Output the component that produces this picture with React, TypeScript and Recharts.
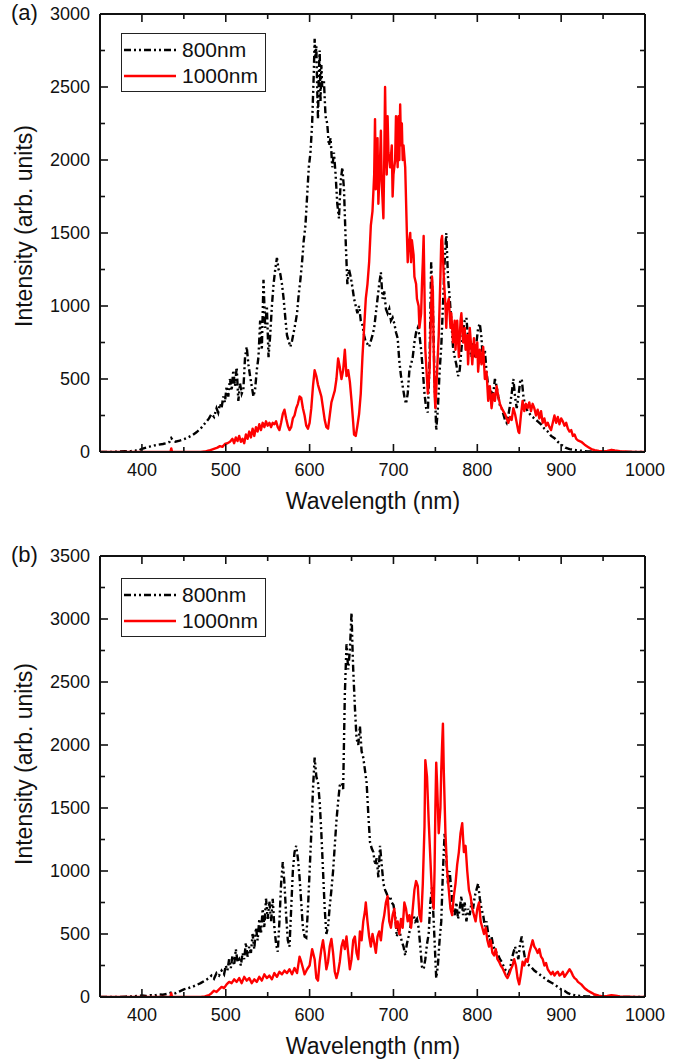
import React from 'react';
import { LineChart, Line, XAxis, YAxis, Legend, CartesianGrid } from 'recharts';

const FONT = '"Liberation Sans", Arial, sans-serif';

// tick values
const X_TICKS = [350, 400, 450, 500, 550, 600, 650, 700, 750, 800, 850, 900, 950, 1000];
const A_Y_TICKS = [0, 250, 500, 750, 1000, 1250, 1500, 1750, 2000, 2250, 2500, 2750, 3000];
const B_Y_TICKS = [0, 250, 500, 750, 1000, 1250, 1500, 1750, 2000, 2250, 2500, 2750, 3000, 3250, 3500];

// (a) 800nm pump, [wavelength nm, intensity]
const A_800: [number, number][] = [
  [350,0],[360,0],[370,2],[380,5],[385,3],[390,12],[395,8],[400,22],[405,30],[410,38],[415,45],[420,50],[425,55],[430,62],[433,70],[435,95],[437,80],[440,70],[445,78],[450,88],[455,100],[460,115],[465,135],[470,160],[475,195],[480,230],[483,260],[486,240],[489,300],[491,270],[493,330],[495,300],[497,380],[499,340],[501,450],[503,380],[505,500],[507,420],[509,560],[511,450],[513,580],[515,350],[517,470],[519,400],[521,430],[523,650],[525,720],[527,600],[529,520],[531,450],[533,380],[535,430],[537,560],[539,650],[541,900],[543,700],[545,1180],[547,850],[549,1000],[551,650],[553,800],[555,1000],[557,1150],[559,1250],[561,1330],[563,1250],[565,1220],[567,1150],[569,1050],[571,920],[573,800],[575,760],[577,720],[579,760],[581,820],[583,880],[585,950],[587,1080],[589,1180],[591,1300],[593,1450],[595,1550],[597,1750],[599,1950],[601,2050],[603,2250],[605,2600],[606,2830],[607,2700],[608,2780],[609,2500],[610,2280],[611,2600],[612,2750],[613,2400],[614,2650],[615,2500],[617,2550],[619,2300],[621,2250],[623,2100],[625,2150],[627,1950],[629,2050],[631,1900],[633,1700],[635,1600],[637,1850],[639,1950],[641,1800],[643,1450],[645,1150],[647,1250],[649,1200],[651,1130],[653,1050],[655,1000],[657,950],[659,1000],[661,900],[663,870],[665,800],[667,750],[669,740],[671,720],[673,760],[675,800],[677,850],[679,950],[681,1050],[683,1150],[685,1230],[687,1050],[689,1100],[691,980],[693,950],[695,980],[697,900],[699,920],[701,880],[703,820],[705,780],[707,620],[709,520],[711,450],[713,380],[715,330],[717,400],[719,560],[721,600],[723,650],[725,750],[727,820],[729,850],[731,800],[733,700],[735,560],[737,400],[739,300],[741,270],[743,600],[745,1300],[747,1000],[749,500],[751,150],[753,300],[755,550],[757,720],[759,1000],[761,1300],[763,1500],[765,1200],[767,1060],[769,900],[771,720],[773,650],[775,600],[777,520],[779,560],[781,700],[783,820],[785,900],[787,920],[789,780],[791,700],[793,650],[795,750],[797,650],[799,750],[801,850],[803,880],[805,780],[807,600],[809,700],[811,550],[813,450],[815,380],[817,420],[819,400],[821,500],[823,450],[825,380],[827,320],[829,300],[831,260],[833,220],[835,200],[837,250],[839,320],[841,400],[843,500],[845,380],[847,300],[849,380],[851,480],[853,500],[855,380],[857,320],[860,280],[864,250],[868,230],[872,210],[876,190],[880,160],[884,140],[888,110],[892,95],[896,70],[900,50],[905,30],[910,20],[915,15],[920,10],[925,8],[930,5],[940,3],[950,1],[960,0],[980,0],[1000,0],
];

// (a) 1000nm pump
const A_1000: [number, number][] = [
  [350,0],[400,0],[430,0],[434,0],[435,25],[436,0],[470,0],[475,3],[480,10],[485,20],[490,30],[493,40],[496,35],[499,55],[502,60],[505,70],[508,90],[510,60],[512,100],[514,75],[516,110],[518,70],[520,90],[522,60],[524,120],[526,90],[528,140],[530,100],[532,160],[534,110],[536,170],[538,140],[540,190],[542,150],[544,200],[546,170],[548,210],[550,180],[552,200],[554,170],[556,200],[558,190],[560,210],[562,170],[564,150],[566,200],[568,260],[570,290],[572,230],[574,180],[576,150],[578,170],[580,230],[582,250],[584,300],[586,330],[588,380],[590,370],[592,300],[594,250],[596,180],[598,160],[600,200],[602,300],[604,450],[606,560],[608,520],[610,460],[612,420],[614,380],[616,300],[618,220],[620,170],[622,160],[624,250],[626,340],[628,380],[630,420],[632,500],[634,640],[636,580],[638,500],[640,560],[642,700],[644,520],[646,560],[648,480],[650,350],[652,200],[653,120],[655,110],[657,180],[659,260],[661,400],[663,650],[665,850],[667,1050],[669,1150],[671,1300],[673,1550],[675,1650],[677,1900],[678,2280],[679,1800],[681,2150],[682,1700],[684,2000],[685,2200],[686,1850],[688,1600],[689,2000],[690,2500],[691,2100],[692,1900],[693,2300],[694,2050],[696,1950],[698,2100],[699,1750],[700,1900],[702,2000],[703,2300],[704,2100],[705,1950],[706,2300],[707,2000],[708,2380],[709,2100],[710,2250],[711,2000],[712,2100],[714,1950],[716,1500],[717,1300],[718,1400],[720,1500],[721,1300],[722,1450],[724,1350],[725,1200],[727,1150],[728,1050],[730,1000],[731,850],[733,950],[734,1150],[735,1300],[736,1480],[737,1100],[738,700],[740,500],[741,400],[743,550],[745,1000],[746,1200],[747,1100],[748,700],[749,400],[750,300],[752,550],[754,800],[756,1200],[757,1450],[758,1480],[759,1350],[760,1200],[762,1000],[763,850],[764,1000],[766,1050],[768,850],[769,950],[771,750],[773,900],[774,700],[776,900],[778,650],[780,900],[781,950],[783,750],[785,850],[786,700],[788,800],[789,600],[791,850],[793,700],[794,600],[796,780],[798,650],[800,750],[801,550],[803,700],[805,600],[807,720],[809,500],[811,550],[813,350],[815,450],[817,300],[819,400],[821,350],[823,450],[825,380],[827,330],[829,300],[831,280],[833,260],[835,230],[837,200],[839,240],[841,220],[843,300],[845,260],[847,200],[849,140],[850,130],[852,250],[854,350],[856,280],[858,330],[860,300],[862,340],[864,280],[866,330],[868,300],[870,250],[872,290],[874,230],[876,280],[878,200],[880,230],[882,180],[884,200],[886,170],[888,150],[890,200],[892,250],[894,200],[896,240],[898,190],[900,230],[902,210],[904,180],[906,200],[908,160],[910,140],[912,150],[914,110],[916,120],[918,90],[920,80],[924,70],[928,50],[932,35],[936,20],[940,12],[945,8],[950,5],[955,8],[960,15],[964,10],[970,5],[980,2],[990,0],[1000,0],
];

// (b) 800nm pump
const B_800: [number, number][] = [
  [350,0],[370,0],[380,3],[390,5],[395,10],[400,12],[405,8],[410,15],[415,12],[420,20],[425,18],[430,25],[435,35],[440,30],[445,45],[450,60],[455,70],[460,80],[465,95],[470,110],[475,130],[480,150],[483,170],[486,145],[489,190],[492,170],[495,210],[498,180],[500,250],[502,210],[504,300],[506,230],[508,330],[510,250],[512,380],[514,280],[516,300],[518,250],[520,350],[522,300],[524,430],[526,320],[528,400],[530,350],[532,500],[534,380],[536,550],[538,450],[540,620],[542,500],[544,700],[546,550],[548,780],[550,620],[552,760],[554,600],[556,780],[558,550],[560,420],[562,360],[564,600],[566,900],[568,1070],[570,900],[572,650],[574,450],[576,400],[578,700],[580,1000],[582,1150],[584,1200],[586,1100],[588,950],[590,750],[592,550],[594,480],[596,470],[598,700],[600,1000],[602,1300],[604,1650],[606,1900],[608,1750],[610,1700],[612,1550],[614,1300],[616,1000],[618,700],[620,500],[622,560],[624,720],[626,850],[628,1000],[630,1200],[632,1400],[634,1550],[636,1680],[638,1700],[640,1650],[642,2400],[644,2800],[646,2600],[648,2750],[650,3050],[651,2800],[652,2600],[654,2300],[656,2050],[658,2000],[660,2150],[662,1950],[664,1900],[666,1800],[668,1700],[670,1450],[672,1230],[674,1180],[676,1150],[678,1050],[680,1100],[682,950],[684,1200],[686,1050],[688,900],[690,850],[692,820],[694,780],[696,800],[698,750],[700,730],[702,650],[704,480],[706,550],[708,500],[710,440],[712,400],[714,330],[716,420],[718,480],[720,550],[722,620],[724,650],[726,600],[728,620],[730,550],[732,400],[734,240],[736,220],[738,300],[740,420],[742,500],[744,750],[746,870],[748,600],[750,300],[751,150],[753,250],[755,450],[757,600],[759,1000],[761,1300],[763,1100],[765,900],[767,1000],[769,850],[771,700],[773,650],[775,750],[777,620],[779,700],[781,800],[783,650],[785,750],[787,600],[789,700],[791,650],[793,750],[795,700],[797,800],[799,850],[801,900],[803,780],[805,700],[807,650],[809,560],[811,600],[813,500],[815,450],[817,480],[819,400],[821,380],[823,350],[825,330],[827,300],[829,280],[831,250],[833,220],[835,200],[837,180],[839,220],[841,300],[843,350],[845,400],[847,350],[849,300],[851,420],[853,480],[855,380],[857,300],[860,260],[864,240],[868,210],[872,190],[876,170],[880,150],[884,130],[888,115],[892,100],[896,80],[900,60],[904,50],[908,30],[912,20],[916,15],[920,10],[930,5],[940,2],[950,0],[1000,0],
];

// (b) 1000nm pump
const B_1000: [number, number][] = [
  [350,0],[400,0],[434,0],[435,30],[436,0],[470,0],[475,5],[480,15],[483,30],[486,50],[489,40],[492,60],[495,80],[498,70],[501,100],[504,120],[507,110],[510,140],[513,120],[516,150],[519,110],[522,160],[525,130],[528,150],[531,110],[534,140],[537,120],[540,160],[543,130],[546,180],[549,150],[552,170],[555,140],[558,190],[561,160],[564,200],[567,180],[570,210],[573,190],[576,220],[579,180],[582,230],[585,190],[588,320],[590,280],[592,230],[594,180],[597,220],[600,250],[603,380],[606,300],[608,150],[610,130],[612,280],[614,380],[616,450],[618,350],[620,220],[622,280],[624,400],[626,460],[628,350],[630,200],[632,150],[634,200],[636,280],[638,400],[640,450],[642,380],[644,480],[646,350],[648,220],[650,300],[652,450],[654,480],[656,350],[658,300],[660,520],[662,450],[664,600],[666,680],[667,750],[669,600],[671,480],[673,400],[675,500],[677,430],[679,350],[681,480],[683,520],[685,450],[687,580],[689,650],[691,750],[693,800],[695,600],[697,550],[699,650],[701,700],[703,550],[705,600],[707,500],[709,620],[711,550],[713,750],[715,700],[717,600],[719,650],[721,550],[723,700],[725,850],[727,920],[729,880],[731,650],[733,600],[735,900],[737,1350],[738,1880],[740,1750],[742,1400],[744,1100],[746,800],[748,700],[749,1000],[750,1500],[751,1860],[752,1700],[754,1300],[756,1500],[757,1800],[758,2000],[759,2170],[760,1800],[762,1300],[764,1000],[766,850],[768,700],[770,650],[772,800],[774,900],[776,1050],[778,1150],[780,1300],[782,1380],[784,1150],[786,1200],[788,1000],[790,850],[792,800],[794,700],[796,650],[798,600],[800,700],[802,750],[804,600],[806,550],[808,500],[810,550],[812,450],[814,400],[816,450],[818,350],[820,330],[822,380],[824,300],[826,280],[828,250],[830,230],[832,200],[834,170],[836,150],[838,180],[840,220],[842,250],[844,300],[846,250],[848,150],[850,100],[852,180],[854,280],[856,250],[858,300],[860,280],[862,350],[864,400],[866,450],[868,400],[870,380],[872,350],[874,380],[876,320],[878,300],[880,250],[882,270],[884,220],[886,200],[888,180],[890,200],[892,170],[894,190],[896,200],[898,170],[900,180],[902,200],[904,160],[906,180],[908,200],[910,220],[912,200],[914,170],[916,150],[918,140],[920,120],[924,100],[928,70],[932,50],[936,35],[940,20],[945,10],[950,5],[955,8],[960,15],[965,10],[970,5],[980,2],[990,0],[1000,0],
];

const DASH_800 = '7 3 2 3 2 3';
const PLOT_LEFT = 100;
const PLOT_W = 545;
const INK = '#111';
const toRows = (pts: [number, number][]) => pts.map(([nm, v]) => ({ nm, v }));

// inward ticks on bottom/left axis, mirrored onto top/right (span = plot height/width)
const BottomTick = (props: any, span: number) => {
  const { x, y, payload } = props;
  const major = payload.value % 100 === 0;
  const len = major ? 8 : 5;
  return (
    <g key={`bt-${payload.value}`}>
      <line x1={x} y1={y} x2={x} y2={y - len} stroke={INK} strokeWidth={1.6} />
      <line x1={x} y1={y - span} x2={x} y2={y - span + len} stroke={INK} strokeWidth={1.6} />
      {major && (
        <text x={x} y={y + 24} textAnchor="middle" fontSize={18} fontFamily={FONT} fill={INK}>{payload.value}</text>
      )}
    </g>
  );
};
const LeftTick = (props: any, span: number) => {
  const { x, y, payload } = props;
  const major = payload.value % 500 === 0;
  const len = major ? 8 : 5;
  return (
    <g key={`lt-${payload.value}`}>
      <line x1={x} y1={y} x2={x + len} y2={y} stroke={INK} strokeWidth={1.6} />
      <line x1={x + span} y1={y} x2={x + span - len} y2={y} stroke={INK} strokeWidth={1.6} />
      {major && (
        <text x={x - 10} y={y + 6} textAnchor="end" fontSize={18} fontFamily={FONT} fill={INK}>{payload.value}</text>
      )}
    </g>
  );
};

const LegendBox = () => (
  <svg width={145} height={59} style={{ display: 'block' }}>
    <rect x={0.5} y={0.5} width={144} height={58} fill="#fff" stroke="#222" strokeWidth={1} />
    <line x1={3} y1={17} x2={55} y2={17} stroke="#000" strokeWidth={2.4} strokeDasharray={DASH_800} />
    <text x={61} y={24} fontSize={21} fontFamily={FONT} fill={INK}>800nm</text>
    <line x1={3} y1={43} x2={55} y2={43} stroke="#ff0000" strokeWidth={2.6} />
    <text x={61} y={50} fontSize={21} fontFamily={FONT} fill={INK}>1000nm</text>
  </svg>
);

type PanelProps = {
  tag: string;
  top: number;
  height: number;
  marginTop: number;
  marginBottom: number;
  yMax: number;
  yTicks: number[];
  s800: [number, number][];
  s1000: [number, number][];
  legendTop: number;
  yTitleY: number;
};

function Panel({ tag, top, height, marginTop, marginBottom, yMax, yTicks, s800, s1000, legendTop, yTitleY }: PanelProps) {
  const axisCommon = { stroke: INK, strokeWidth: 2 };
  const plotH = height - marginTop - marginBottom - 30;
  return (
    <div style={{ position: 'absolute', left: 0, top, width: 680, height }}>
      <LineChart width={680} height={height} margin={{ top: marginTop, right: 680 - PLOT_LEFT - PLOT_W, bottom: marginBottom, left: 0 }}>
        {/* top and right edges of the frame */}
        <CartesianGrid
          stroke={INK} strokeWidth={2} fill="none"
          horizontalCoordinatesGenerator={(p: any) => [p.offset.top]}
          verticalCoordinatesGenerator={(p: any) => [p.offset.left + p.offset.width]}
        />
        <XAxis
          type="number" dataKey="nm" domain={[350, 1000]} allowDataOverflow ticks={X_TICKS} interval={0}
          height={30} tickSize={0} tickMargin={0} tick={(p: any) => BottomTick(p, plotH)} tickLine={false} axisLine={axisCommon}
        />
        <YAxis
          type="number" domain={[0, yMax]} allowDataOverflow ticks={yTicks} interval={0}
          width={PLOT_LEFT} tickSize={0} tickMargin={0} tick={(p: any) => LeftTick(p, PLOT_W)} tickLine={false} axisLine={axisCommon}
        />
        <Legend
          layout="horizontal" verticalAlign="middle" align="center"
          content={() => <LegendBox />}
          wrapperStyle={{ left: 121, top: legendTop, width: 145, height: 59 }}
        />
        <Line
          data={toRows(s800)} dataKey="v" name="800nm" type="linear" stroke="#000" strokeWidth={2.4}
          strokeDasharray={DASH_800} dot={false} activeDot={false} isAnimationActive={false}
        />
        <Line
          data={toRows(s1000)} dataKey="v" name="1000nm" type="linear" stroke="#ff0000" strokeWidth={2.4}
          strokeLinejoin="round" dot={false} activeDot={false} isAnimationActive={false}
        />
      </LineChart>
      <div style={{ position: 'absolute', left: 11, top: marginTop - 14, fontSize: 22, fontFamily: FONT, color: INK }}>{tag}</div>
      <div style={{
        position: 'absolute', left: 24, top: yTitleY, fontSize: 23, fontFamily: FONT, color: INK, whiteSpace: 'nowrap',
        transform: 'translate(-50%, -50%) rotate(-90deg)',
      }}>Intensity (arb. units)</div>
      <div style={{
        position: 'absolute', left: 373, top: height - marginBottom - 30 + 49, fontSize: 23, fontFamily: FONT, color: INK,
        whiteSpace: 'nowrap', transform: 'translate(-50%, -50%)',
      }}>Wavelength (nm)</div>
    </div>
  );
}

export default function App() {
  return (
    <div style={{ position: 'absolute', left: 0, top: 0, width: 680, height: 1061, background: '#fff' }}>
      <Panel tag="(a)" top={0} height={530} marginTop={14} marginBottom={48} yMax={3000} yTicks={A_Y_TICKS}
        s800={A_800} s1000={A_1000} legendTop={33} yTitleY={226} />
      <Panel tag="(b)" top={530} height={531} marginTop={26} marginBottom={34} yMax={3500} yTicks={B_Y_TICKS}
        s800={B_800} s1000={B_1000} legendTop={48} yTitleY={234} />
    </div>
  );
}
